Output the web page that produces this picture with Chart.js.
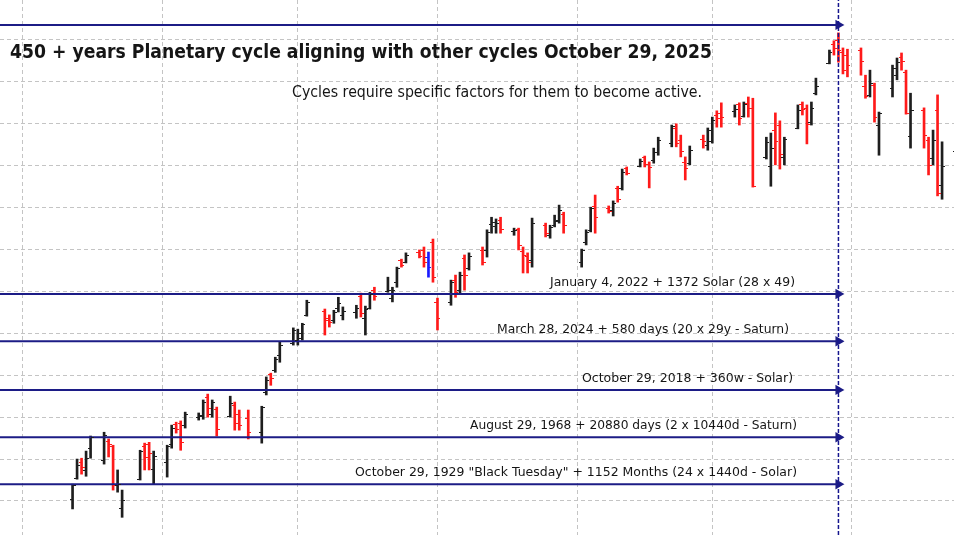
<!DOCTYPE html>
<html>
<head>
<meta charset="utf-8">
<script src="https://cdn.jsdelivr.net/npm/chart.js@4.4.1/dist/chart.umd.min.js"></script>
<style>
  html, body { margin: 0; padding: 0; background: #fff; }
  #wrap { width: 954px; height: 535px; }
</style>
</head>
<body>
<div id="wrap"><canvas id="c" width="954" height="535"></canvas></div>
<script>
// daily bars, 2025 (MM-DD)
const dates = [
  "05-12","05-13","05-14","05-15","05-16","05-19","05-20","05-21","05-22","05-23",
  "05-27","05-28","05-29","05-30","06-02","06-03","06-04","06-05","06-06",
  "06-09","06-10","06-11","06-12","06-13","06-16","06-17","06-18","06-20",
  "06-23","06-24","06-25","06-26","06-27","06-30","07-01","07-02","07-03",
  "07-07","07-08","07-09","07-10","07-11","07-14","07-15","07-16","07-17","07-18",
  "07-21","07-22","07-23","07-24","07-25","07-28","07-29","07-30","07-31","08-01",
  "08-04","08-05","08-06","08-07","08-08","08-11","08-12","08-13","08-14","08-15",
  "08-18","08-19","08-20","08-21","08-22","08-25","08-26","08-27","08-28","08-29",
  "09-02","09-03","09-04","09-05","09-08","09-09","09-10","09-11","09-12",
  "09-15","09-16","09-17","09-18","09-19","09-22","09-23","09-24","09-25","09-26",
  "09-29","09-30","10-01","10-02","10-03","10-06","10-07","10-08","10-09","10-10",
  "10-13","10-14","10-15","10-16","10-17","10-20","10-21","10-22","10-23","10-24",
  "10-27","10-28","10-29","10-30","10-31","11-03","11-04","11-05","11-06","11-07",
  "11-10","11-11","11-12","11-13","11-14","11-17","11-18","11-19","11-20","11-21",
  "11-24"
];
const opens = [
  5804,5855,5893,5874,5926,5897,5943,5931,5838,5783,
  5852,5931,5936,5876,5893,5936,5983,5986,5981,
  6000,6003,6048,6007,6019,6003,6029,6007,5998,
  5964,6060,6103,6112,6148,6177,6184,6189,6244,
  6253,6236,6232,6260,6244,6251,6289,6236,6260,6303,
  6301,6284,6322,6375,6370,6394,6399,6382,6418,6275,
  6275,6327,6303,6380,6356,6399,6399,6461,6456,6470,
  6444,6449,6396,6384,6375,6458,6434,6458,6470,6485,
  6370,6418,6447,6504,6499,6494,6547,6547,6594,
  6599,6621,6604,6614,6633,6654,6690,6661,6609,6606,
  6664,6649,6659,6721,6726,6731,6747,6719,6750,6738,
  6621,6599,6685,6697,6621,6690,6747,6738,6704,6773,
  6845,6890,6900,6871,6864,6876,6790,6769,6793,6697,
  6785,6816,6859,6824,6671,6733,6661,6618,6733,6554,
  6635
];
const highs = [
  5840,5900,5902,5919,5955,5964,5948,5933,5874,5826,
  5921,5938,5940,5919,5933,5981,5988,5991,6012,
  6010,6041,6055,6041,6024,6050,6036,6017,6017,
  6026,6096,6105,6143,6179,6213,6210,6224,6279,
  6258,6244,6255,6286,6263,6267,6296,6265,6298,6310,
  6334,6310,6358,6377,6392,6399,6406,6394,6425,6284,
  6327,6339,6346,6387,6392,6406,6447,6477,6473,6477,
  6451,6451,6406,6392,6475,6463,6458,6482,6506,6489,
  6401,6447,6501,6530,6504,6516,6551,6592,6597,
  6616,6623,6609,6642,6668,6697,6700,6673,6621,6647,
  6673,6690,6716,6731,6750,6745,6750,6752,6764,6761,
  6668,6678,6726,6707,6668,6745,6752,6745,6752,6809,
  6876,6898,6917,6881,6878,6881,6816,6828,6797,6728,
  6840,6857,6869,6828,6773,6738,6668,6685,6769,6657,
  6700
];
const lows = [
  5781,5852,5864,5859,5902,5888,5905,5826,5821,5761,
  5850,5874,5874,5840,5857,5926,5962,5921,5974,
  5993,5995,6000,6000,5955,6000,5969,5969,5948,
  5938,6053,6076,6107,6131,6172,6172,6184,6241,
  6196,6215,6224,6251,6232,6236,6239,6196,6258,6279,
  6298,6275,6310,6358,6368,6380,6358,6334,6322,6208,
  6267,6286,6296,6303,6351,6363,6382,6439,6439,6439,
  6434,6399,6344,6344,6358,6430,6427,6454,6463,6439,
  6358,6411,6442,6439,6487,6480,6513,6542,6578,
  6597,6597,6547,6606,6625,6645,6645,6621,6566,6602,
  6642,6637,6654,6692,6692,6716,6697,6716,6716,6549,
  6616,6551,6602,6592,6602,6688,6721,6652,6697,6769,
  6843,6864,6847,6819,6812,6816,6761,6764,6704,6625,
  6764,6805,6828,6723,6642,6642,6578,6602,6528,6520,
  6630
];
const closes = [
  5838,5886,5881,5902,5952,5957,5936,5838,5840,5802,
  5919,5905,5914,5907,5931,5974,5971,5940,6007,
  6005,6036,6022,6036,5971,6034,5986,5981,5964,
  6024,6088,6093,6139,6172,6208,6201,6222,6275,
  6232,6227,6251,6272,6253,6260,6248,6258,6294,6289,
  6303,6303,6356,6363,6387,6384,6370,6358,6334,6236,
  6322,6298,6339,6339,6384,6370,6442,6466,6463,6449,
  6447,6411,6387,6370,6463,6439,6454,6468,6494,6458,
  6399,6442,6499,6477,6492,6511,6520,6585,6583,
  6611,6604,6597,6633,6661,6695,6654,6635,6594,6637,
  6659,6685,6709,6714,6716,6735,6714,6747,6738,6551,
  6657,6642,6659,6628,6664,6733,6735,6700,6738,6790,
  6871,6881,6876,6828,6840,6850,6766,6797,6716,6726,
  6833,6847,6850,6726,6733,6673,6602,6661,6535,6599,
  6690
];
const blueBars = ["07-30"];

// cycle lines (price level) all ending on the cycle date
const cycleDate = "10-29";
const cycleLevels = [6936, 6294, 6181, 6065, 5952, 5840];
const cycleLabels = [
  "",
  "January 4, 2022 + 1372 Solar (28 x 49)",
  "March 28, 2024 + 580 days (20 x 29y - Saturn)",
  "October 29, 2018 + 360w - Solar)",
  "August 29, 1968 + 20880 days (2 x 10440d - Saturn)",
  "October 29, 1929 \"Black Tuesday\" + 1152 Months (24 x 1440d - Solar)"
];
const titleText = "450 + years Planetary cycle aligning with other cycles October 29, 2025";
const noteText = "Cycles require specific factors for them to become active.";

const monthStarts = ["05-01","06-01","07-01","08-01","09-01","10-01","11-01"];
const priceTicks = [5800,5900,6000,6100,6200,6300,6400,6500,6600,6700,6800,6900];

// --- layout (pixels) ---
const labelBox = [null, [550, 245], [497, 292], [582, 211], [470, 327], [355, 442]];
const NAVY = "#1c1c86";
const RED = "#ff1a1a", BLACK = "#1e1e1e", BLUE = "#1a1aff";

const DAY0 = Date.UTC(2025, 4, 1);
const dayOf = s => (Date.parse("2025-" + s + "T00:00:00Z") - DAY0) / 86400000;
const barColor = i => blueBars.includes(dates[i]) ? BLUE : (closes[i] >= opens[i] ? BLACK : RED);

const X_MIN = -5.105, X_MAX = 206.65;
const Y_MIN = 5718.8, Y_MAX = 6995.4;
const cycleX = dayOf(cycleDate);

function fitText(ctx, t, x, y, w) {
  const m = ctx.measureText(t).width;
  ctx.save();
  ctx.translate(x, y);
  ctx.scale(w / m, 1);
  ctx.fillText(t, 0, 0);
  ctx.restore();
}

// open / close ticks
const ohlcTicks = {
  id: "ohlcTicks",
  afterDatasetsDraw(chart) {
    const { ctx, scales: { x, y } } = chart;
    ctx.save();
    ctx.lineWidth = 1;
    dates.forEach((d, i) => {
      const px = Math.round(x.getPixelForValue(dayOf(d)));
      const yo = Math.round(y.getPixelForValue(opens[i])) + 0.5;
      const yc = Math.round(y.getPixelForValue(closes[i])) + 0.5;
      ctx.strokeStyle = barColor(i);
      ctx.beginPath();
      ctx.moveTo(px - 3, yo); ctx.lineTo(px, yo);
      ctx.moveTo(px, yc); ctx.lineTo(px + 3, yc);
      ctx.stroke();
    });
    ctx.restore();
  }
};

// title, note and cycle labels
const notes = {
  id: "notes",
  afterDraw(chart) {
    const { ctx, scales: { y } } = chart;
    ctx.save();
    ctx.fillStyle = "#151515";
    ctx.textBaseline = "alphabetic";
    ctx.textAlign = "left";
    ctx.font = 'bold 19px "DejaVu Sans"';
    fitText(ctx, titleText, 10, 58, 702);
    ctx.font = '16px "DejaVu Sans"';
    fitText(ctx, noteText, 292, 97, 410);
    ctx.font = '13px "DejaVu Sans"';
    cycleLabels.forEach((t, i) => {
      if (!t) return;
      const b = labelBox[i];
      fitText(ctx, t, b[0], Math.round(y.getPixelForValue(cycleLevels[i])) - 8, b[1]);
    });
    ctx.restore();
  }
};

const datasets = [
  { type: "line", data: [{ x: cycleX, y: Y_MIN }, { x: cycleX, y: Y_MAX }],
    borderColor: "#16168e", borderWidth: 1.5, borderDash: [4, 2], pointRadius: 0 }
];
cycleLevels.forEach(v => datasets.push({
  type: "line", data: [{ x: X_MIN, y: v }, { x: cycleX, y: v }],
  borderColor: NAVY, borderWidth: 2, pointRadius: [0, 4], pointStyle: "triangle",
  rotation: 90, pointBackgroundColor: NAVY, pointBorderColor: NAVY
}));
datasets.push({
  type: "bar",
  data: dates.map((d, i) => ({ x: dayOf(d), y: [lows[i], highs[i]] })),
  backgroundColor: dates.map((d, i) => barColor(i)),
  barThickness: 2, borderWidth: 0, grouped: false
});

new Chart(document.getElementById("c"), {
  data: { datasets },
  options: {
    responsive: false,
    animation: false,
    events: [],
    layout: { padding: 0, autoPadding: false },
    plugins: { legend: { display: false }, tooltip: { enabled: false } },
    scales: {
      x: {
        type: "linear", min: X_MIN, max: X_MAX, offset: false,
        grid: { color: "#c4c4c4", drawTicks: false, offset: false },
        border: { display: false, dash: [4, 3] },
        ticks: { display: false },
        afterBuildTicks: s => { s.ticks = monthStarts.map(m => ({ value: dayOf(m) })); }
      },
      y: {
        type: "linear", min: Y_MIN, max: Y_MAX,
        grid: { color: "#c4c4c4", drawTicks: false },
        border: { display: false, dash: [4, 3] },
        ticks: { display: false },
        afterBuildTicks: s => { s.ticks = priceTicks.map(v => ({ value: v })); }
      }
    }
  },
  plugins: [ohlcTicks, notes]
});
</script>
</body>
</html>
